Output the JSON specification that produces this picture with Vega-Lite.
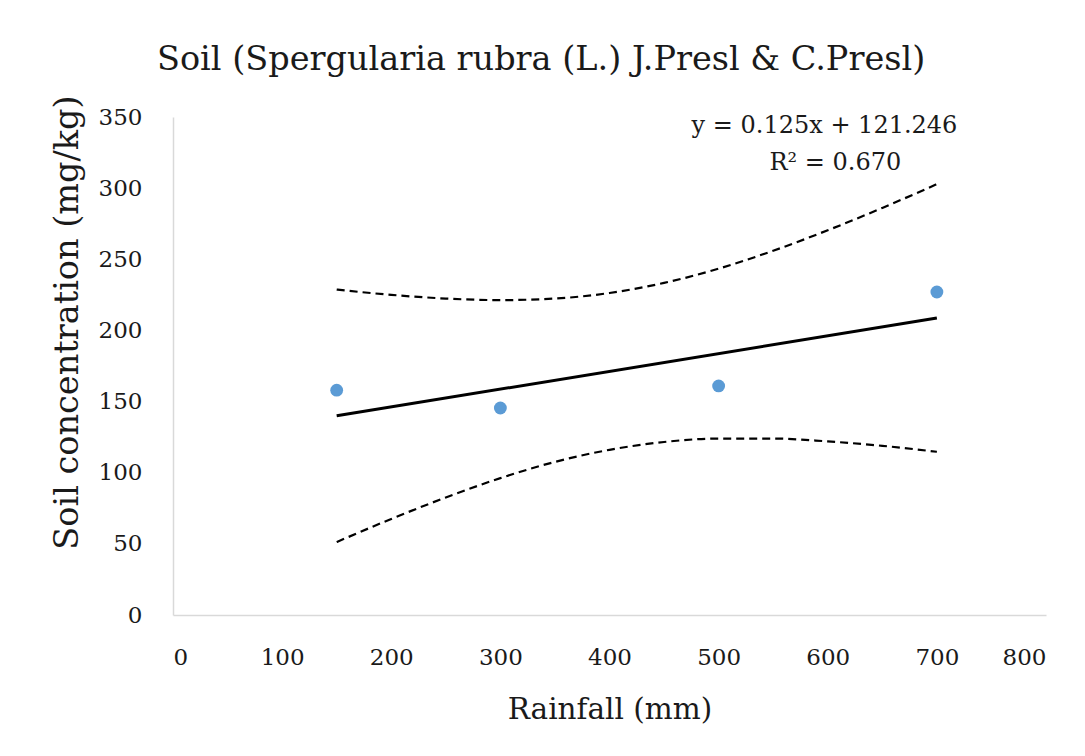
{
  "$schema": "https://vega.github.io/schema/vega-lite/v6.json",
  "width": 873,
  "height": 498,
  "autosize": {"type": "none"},
  "padding": {"left": 173, "top": 117, "right": 39, "bottom": 141},
  "background": "white",
  "config": {
    "view": {"stroke": null},
    "font": "DejaVu Serif",
    "axis": {"grid": false, "ticks": false, "domainColor": "#d9d9d9", "domainWidth": 1.5, "labelColor": "#1a1a1a", "titleColor": "#1a1a1a", "labelFont": "DejaVu Serif", "titleFont": "DejaVu Serif", "titleFontWeight": "normal"}
  },
  "title": {
    "text": "Soil (Spergularia rubra (L.) J.Presl & C.Presl)",
    "fontSize": 33.5,
    "fontWeight": "normal",
    "font": "DejaVu Serif",
    "color": "#1a1a1a",
    "anchor": "start",
    "frame": "group",
    "dx": -16,
    "offset": 17
  },
  "datasets": {
    "points": [
      {"rainfall": 150, "soil": 158},
      {"rainfall": 300, "soil": 145.5},
      {"rainfall": 500, "soil": 161},
      {"rainfall": 700, "soil": 227}
    ],
    "fit": [
      {"rainfall": 150, "soil": 140.0},
      {"rainfall": 700, "soil": 208.7}
    ],
    "bands": [
      {"rainfall": 150, "upper": 228.7, "lower": 51.3},
      {"rainfall": 200, "upper": 225.0, "lower": 67.5},
      {"rainfall": 250, "upper": 222.4, "lower": 82.6},
      {"rainfall": 300, "upper": 221.3, "lower": 96.2},
      {"rainfall": 350, "upper": 222.4, "lower": 107.6},
      {"rainfall": 400, "upper": 226.3, "lower": 116.1},
      {"rainfall": 450, "upper": 233.4, "lower": 121.6},
      {"rainfall": 500, "upper": 243.4, "lower": 124.0},
      {"rainfall": 550, "upper": 256.0, "lower": 124.0},
      {"rainfall": 600, "upper": 270.4, "lower": 122.0},
      {"rainfall": 650, "upper": 286.1, "lower": 118.9},
      {"rainfall": 700, "upper": 302.8, "lower": 114.7}
    ],
    "labels": [
      {"rainfall": 597, "soil": 344, "text": "y = 0.125x + 121.246"},
      {"rainfall": 607, "soil": 318, "text": "R² = 0.670"}
    ]
  },
  "layer": [
    {
      "data": {"name": "bands"},
      "mark": {"type": "line", "color": "black", "strokeWidth": 2.2, "strokeDash": [8, 5], "interpolate": "monotone"},
      "encoding": {
        "x": {"field": "rainfall", "type": "quantitative", "scale": {"domain": [0, 800], "nice": false}, "axis": {"title": "Rainfall (mm)", "values": [0, 100, 200, 300, 400, 500, 600, 700, 800], "labelFontSize": 23, "titleFontSize": 29.5, "labelPadding": 31, "titlePadding": 26}},
        "y": {"field": "upper", "type": "quantitative", "scale": {"domain": [0, 350], "nice": false}, "axis": {"title": "Soil concentration (mg/kg)", "values": [0, 50, 100, 150, 200, 250, 300, 350], "labelFontSize": 23, "titleFontSize": 33.5, "labelPadding": 31, "titlePadding": 14, "titleY": 205}}
      }
    },
    {
      "data": {"name": "bands"},
      "mark": {"type": "line", "color": "black", "strokeWidth": 2.2, "strokeDash": [8, 5], "interpolate": "monotone"},
      "encoding": {
        "x": {"field": "rainfall", "type": "quantitative"},
        "y": {"field": "lower", "type": "quantitative"}
      }
    },
    {
      "data": {"name": "fit"},
      "mark": {"type": "line", "color": "black", "strokeWidth": 3},
      "encoding": {
        "x": {"field": "rainfall", "type": "quantitative"},
        "y": {"field": "soil", "type": "quantitative"}
      }
    },
    {
      "data": {"name": "points"},
      "mark": {"type": "circle", "color": "#5b9bd5", "opacity": 1, "size": 165},
      "encoding": {
        "x": {"field": "rainfall", "type": "quantitative"},
        "y": {"field": "soil", "type": "quantitative"}
      }
    },
    {
      "data": {"name": "labels"},
      "mark": {"type": "text", "fontSize": 24, "color": "#1a1a1a", "align": "center", "baseline": "middle", "font": "DejaVu Serif"},
      "encoding": {
        "x": {"field": "rainfall", "type": "quantitative"},
        "y": {"field": "soil", "type": "quantitative"},
        "text": {"field": "text"}
      }
    }
  ]
}
